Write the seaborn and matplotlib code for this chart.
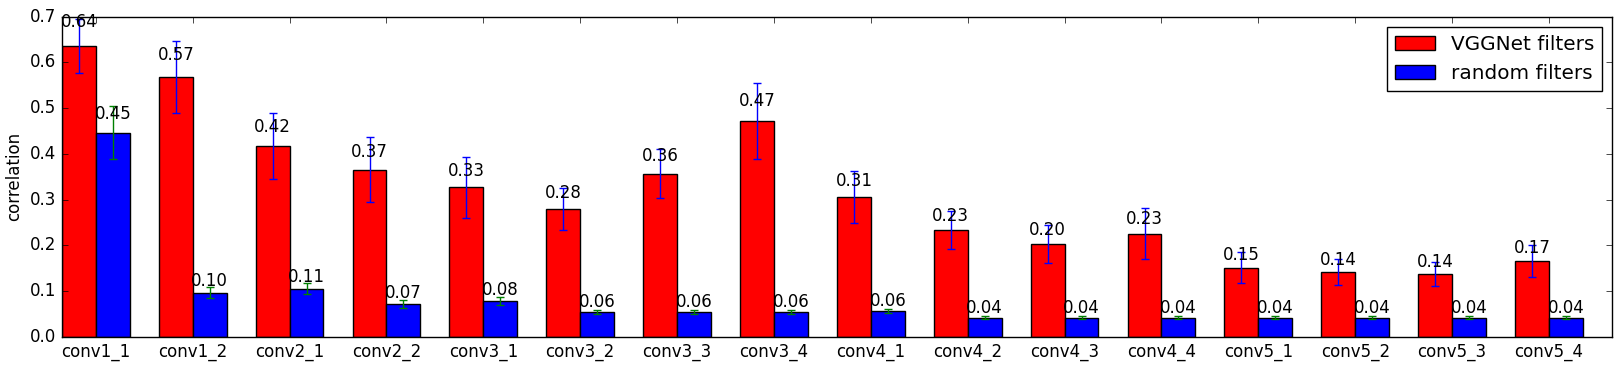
import numpy as np
import pandas as pd
import matplotlib
matplotlib.use("Agg")
import matplotlib.pyplot as plt
import seaborn as sns

# classic matplotlib look (ticks inside, on all sides)
plt.style.use("classic")
plt.rcParams["font.family"] = "DejaVu Sans"

layers = ["conv1_1", "conv1_2", "conv2_1", "conv2_2", "conv3_1", "conv3_2",
          "conv3_3", "conv3_4", "conv4_1", "conv4_2", "conv4_3", "conv4_4",
          "conv5_1", "conv5_2", "conv5_3", "conv5_4"]

vgg_mean = [0.636, 0.568, 0.418, 0.366, 0.327, 0.280, 0.357, 0.472,
            0.306, 0.234, 0.203, 0.226, 0.151, 0.142, 0.138, 0.166]
vgg_err = [0.058, 0.078, 0.072, 0.072, 0.066, 0.046, 0.053, 0.084,
           0.057, 0.042, 0.041, 0.055, 0.034, 0.028, 0.026, 0.034]

rand_mean = [0.446, 0.097, 0.106, 0.072, 0.079, 0.055, 0.055, 0.055,
             0.057, 0.042, 0.042, 0.042, 0.042, 0.042, 0.042, 0.042]
rand_err = [0.058, 0.012, 0.011, 0.008, 0.008, 0.005, 0.004, 0.004,
            0.005, 0.003, 0.003, 0.003, 0.003, 0.003, 0.003, 0.003]

series = ["VGGNet filters", "random filters"]
colors = {"VGGNet filters": "red", "random filters": "blue"}
err_colors = ["blue", "green"]

df = pd.DataFrame({
    "layer": layers * 2,
    "corr": vgg_mean + rand_mean,
    "filters": [series[0]] * len(layers) + [series[1]] * len(layers),
})

fig = plt.figure(figsize=(16.21, 3.69), dpi=100)
ax = fig.add_axes([0.0382, 0.0867, 0.9562, 0.868])

sns.barplot(data=df, x="layer", y="corr", hue="filters", hue_order=series,
            palette=colors, saturation=1, width=0.7, errorbar=None,
            edgecolor="black", linewidth=1, ax=ax)

# error bars and value labels on each bar
for cont, errs, ec in zip(ax.containers, [vgg_err, rand_err], err_colors):
    xs = [b.get_x() + b.get_width() / 2 for b in cont]
    hs = [b.get_height() for b in cont]
    ax.errorbar(xs, hs, yerr=errs, fmt="none", ecolor=ec, capsize=3,
                elinewidth=1, capthick=1)
    for x, h in zip(xs, hs):
        ax.text(x, 1.05 * h, "%.2f" % h, ha="center", va="bottom", fontsize=12)

ax.set_xlim(-0.35, 15.65)
ax.set_ylim(0, 0.7)
ax.set_xlabel("")
ax.set_ylabel("correlation", fontsize=12)
ax.tick_params(labelsize=12)
ax.legend(loc="upper right", fontsize=14.4)

fig.savefig("out.png", dpi=100, facecolor="white")
